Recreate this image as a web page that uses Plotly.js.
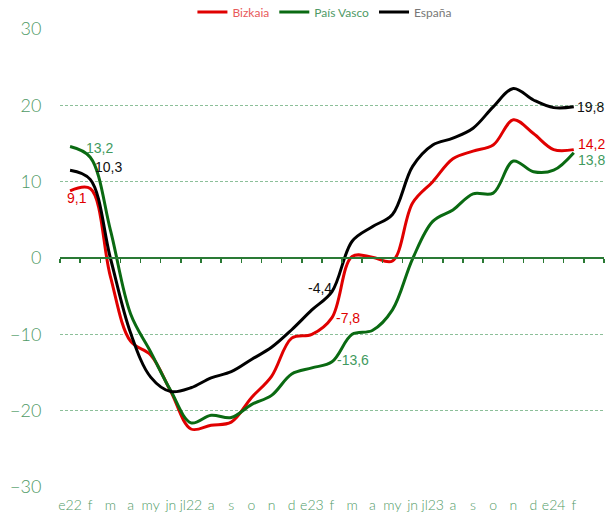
<!DOCTYPE html>
<html>
<head>
<meta charset="utf-8">
<script src="https://cdn.plot.ly/plotly-3.0.1.min.js"></script>
<style>html,body{margin:0;padding:0;background:#fff;}#chart{width:608px;height:514px;}</style>
</head>
<body>
<div id="chart"></div>
<script>
var months = ["e22","f","m","a","my","jn","jl22","a","s","o","n","d","e23","f","m","a","my","jn","jl23","a","s","o","n","d","e24","f"];
var bizkaia = [8.8, 9.1, -2.4, -10.9, -12.7, -17.5, -22.4, -21.9, -21.5, -18.3, -15.5, -10.5, -10.0, -7.8, 0.2, 0.1, -0.4, 7.2, 10.0, 13.0, 14.0, 14.8, 18.1, 16.3, 14.2, 14.2];
var paisVasco = [14.6, 13.2, 3.7, -7.3, -12.3, -17.4, -21.6, -20.6, -20.9, -19.2, -18.0, -15.2, -14.4, -13.6, -10.0, -9.5, -6.8, -0.1, 4.8, 6.3, 8.4, 8.5, 12.7, 11.3, 11.5, 13.8];
var espana = [11.5, 10.3, 0.0, -9.8, -15.6, -17.5, -17.0, -15.7, -14.9, -13.3, -11.7, -9.4, -6.8, -4.4, 2.2, 4.1, 5.7, 12.0, 14.8, 15.7, 17.0, 19.8, 22.2, 20.7, 19.7, 19.8];
var labelIdx = [1, 13, 25];

var nCats = months.length + 1;
var xs = months.map(function(_, i){ return i; });
function fmt(v){ return v.toFixed(1).replace('.', ','); }

var green = '#4f9a66';
var tfont = 'Liberation Sans, Arial';

var series = [
  {y: bizkaia, name: 'Bizkaia', legendColor: '#e85a5a', line: '#e00000', label: '#e00000',
   shifts: [[-13, -9.5], [16, 0], [17.5, 6]]},
  {y: paisVasco, name: 'País Vasco', legendColor: '#4f9a66', line: '#0a6a12', label: '#3f9a5e',
   shifts: [[9.5, 9], [21, 2], [17.5, -7]]},
  {y: espana, name: 'España', legendColor: '#777777', line: '#000000', label: '#111111',
   shifts: [[18, 12], [-12, 4], [17, 0]]}
];

var traces = series.map(function(s){
  return {x: xs, y: s.y, type: 'scatter', mode: 'lines',
          name: '<span style="color:' + s.legendColor + '">' + s.name + '</span>',
          line: {color: s.line, width: 3, shape: 'spline', smoothing: 1}, hoverinfo: 'skip'};
});
/* carrier for the zero axis (invisible) */
traces.push({x: xs, y: espana, xaxis: 'x2', mode: 'lines', type: 'scatter', opacity: 0,
             showlegend: false, hoverinfo: 'skip', line: {width: 0}});

var annotations = [];
series.forEach(function(s){
  labelIdx.forEach(function(idx, k){
    annotations.push({x: idx, y: s.y[idx], xref: 'x', yref: 'y', text: fmt(s.y[idx]), showarrow: false,
                      xanchor: 'center', yanchor: 'middle', xshift: s.shifts[k][0], yshift: s.shifts[k][1],
                      font: {family: tfont, size: 14, color: s.label}});
  });
});

var bounds = [];
for (var i = 0; i <= nCats; i++) bounds.push(i - 0.5);

var layout = {
  width: 608, height: 514,
  margin: {l: 60, r: 4, t: 29, b: 27, autoexpand: false},
  paper_bgcolor: '#fff', plot_bgcolor: '#fff',
  showlegend: true,
  legend: {orientation: 'h', x: 0.487, xanchor: 'center', y: 1.037, yanchor: 'middle',
           font: {family: 'Lato, Liberation Sans', size: 12, color: '#777'}, tracegroupgap: 0},
  annotations: annotations,
  xaxis: {type: 'linear', range: [-0.5, nCats - 0.5], tickmode: 'array', tickvals: xs, ticktext: months,
          showgrid: false, zeroline: false, showline: false, ticks: 'outside', ticklen: 5, tickcolor: 'rgba(0,0,0,0)',
          tickfont: {family: 'Lato, Liberation Sans', size: 14, color: green, weight: 300}},
  xaxis2: {type: 'linear', overlaying: 'x', anchor: 'free', position: 0.5, side: 'bottom',
           range: [-0.5, nCats - 0.5], tickmode: 'array', tickvals: bounds, showticklabels: false,
           ticks: 'outside', ticklen: 4, tickwidth: 1.5, tickcolor: '#2a7a35',
           showline: true, linecolor: '#2a7a35', linewidth: 2, showgrid: false, zeroline: false},
  yaxis: {range: [-30, 30], tickmode: 'linear', tick0: -30, dtick: 10,
          showgrid: true, gridcolor: '#8cbf99', griddash: '3px,2px', gridwidth: 1,
          zeroline: false, showline: false, ticks: 'outside', ticklen: 14, tickcolor: 'rgba(0,0,0,0)',
          tickfont: {family: 'Lato, Liberation Sans', size: 18, color: green, weight: 300}}
};

Plotly.newPlot('chart', traces, layout, {displayModeBar: false, staticPlot: true});
</script>
</body>
</html>
